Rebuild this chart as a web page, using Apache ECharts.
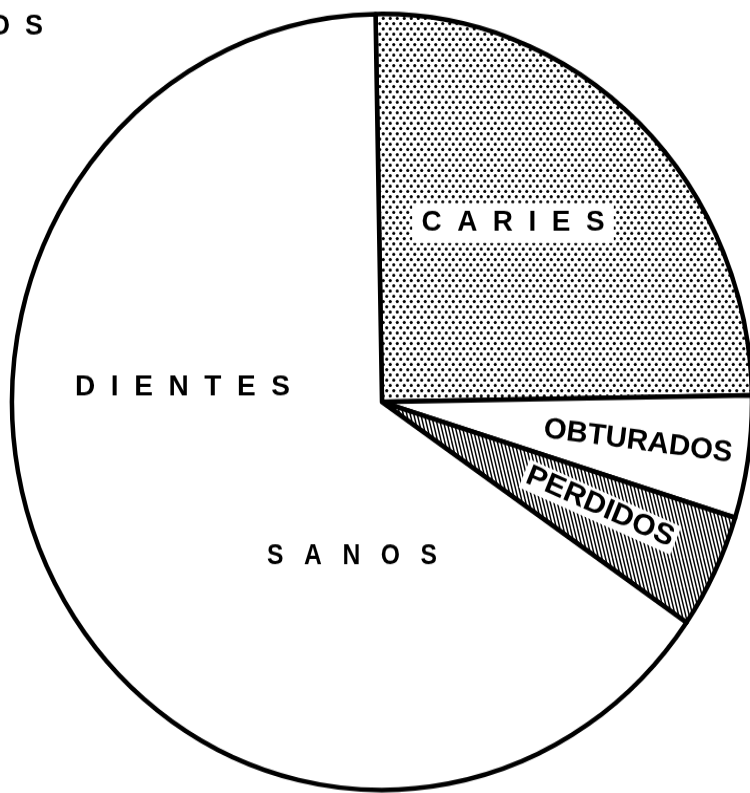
<!DOCTYPE html>
<html>
<head>
<meta charset="utf-8">
<script src="https://cdn.jsdelivr.net/npm/echarts@6/dist/echarts.min.js"></script>
<style>
html,body{margin:0;padding:0;background:#fff;overflow:hidden}
#wrap{width:750px;height:793px;overflow:hidden;position:relative}
#c{width:750px;height:757px;transform:scaleY(1.0486);transform-origin:0 0}
</style>
</head>
<body>
<div id="wrap"><div id="c"></div></div>
<script>
const categories = ['CARIES', 'OBTURADOS', 'PERDIDOS', 'SANOS'];
const values = [25.0, 5.1, 4.8, 65.1];
const labelTexts = ['C  A  R  I  E  S', 'OBTURADOS', 'PERDIDOS', 'D  I  E  N  T  E  S', 'S   A   N   O   S', 'O  S'];

const SY = 1.0486; // vertical stretch of the container (slightly oval pie)
function dotPattern() {
  const c = document.createElement('canvas');
  c.width = 7; c.height = 10;
  const g = c.getContext('2d');
  g.fillStyle = '#fff'; g.fillRect(0, 0, 7, 10);
  g.fillStyle = '#000';
  [[1.75, 2.5], [5.25, 7.5]].forEach(p => { g.beginPath(); g.arc(p[0], p[1], 1.55, 0, Math.PI * 2); g.fill(); });
  return c;
}
function hatchPattern() {
  const c = document.createElement('canvas');
  c.width = 7; c.height = 28;
  const g = c.getContext('2d');
  g.fillStyle = '#fff'; g.fillRect(0, 0, 7, 28);
  g.strokeStyle = '#000'; g.lineWidth = 1.5;
  [-7, -3.5, 0, 3.5, 7].forEach(x0 => { g.beginPath(); g.moveTo(x0, 0); g.lineTo(x0 + 7, 28); g.stroke(); });
  return c;
}
const fills = [
  { image: dotPattern(), repeat: 'repeat' },
  '#ffffff',
  { image: hatchPattern(), repeat: 'repeat' },
  '#ffffff'
];

const fam = '"Liberation Sans", Arial, sans-serif';
const mctx = document.createElement('canvas').getContext('2d');
function fitScale(text, size, target) {
  if (!target) return 1;
  mctx.font = 'bold ' + size + 'px ' + fam;
  return target / mctx.measureText(text).width;
}
function rotC(deg) { // screen angle -> chart angle under vertical stretch
  return Math.atan(Math.tan(deg * Math.PI / 180) / SY);
}
function txt(x, ys, text, size, rotDeg, target, extra) {
  return {
    type: 'text', x: x, y: ys / SY, z: 100, silent: true,
    rotation: rotC(rotDeg || 0), scaleX: fitScale(text, size, target),
    style: Object.assign({ text: text, fontSize: size, fontWeight: 'bold', fontFamily: fam, fill: '#000', align: 'center', verticalAlign: 'middle' }, extra || {})
  };
}

const chart = echarts.init(document.getElementById('c'), null, { renderer: 'canvas' });
chart.setOption({
  backgroundColor: '#fff',
  animation: false,
  series: [{
    type: 'pie',
    center: [382, 402 / SY],
    radius: 370,
    startAngle: 91,
    clockwise: true,
    label: { show: false },
    labelLine: { show: false },
    emphasis: { disabled: true },
    silent: true,
    z: 1,
    itemStyle: { borderColor: '#000', borderWidth: 4.5 },
    data: categories.map((n, i) => ({ name: n, value: values[i], itemStyle: { color: fills[i] } }))
  }],
  graphic: {
    elements: [
      txt(513, 223, labelTexts[0], 27, 0, 183, { backgroundColor: '#fff', padding: [6, 9, 5, 9] }),
      txt(638, 441.5, labelTexts[1], 28, -7.5, 190),
      txt(600, 507, labelTexts[2], 28, -24, 158, { backgroundColor: '#fff', padding: [1, 3, 0, 3] }),
      txt(182.5, 387.5, labelTexts[3], 27, 0, 215),
      txt(352, 556, labelTexts[4], 27, 0, 170),
      txt(43, 27, labelTexts[5], 27, 0, 0, { align: 'right' })
    ]
  }
});
</script>
</body>
</html>
